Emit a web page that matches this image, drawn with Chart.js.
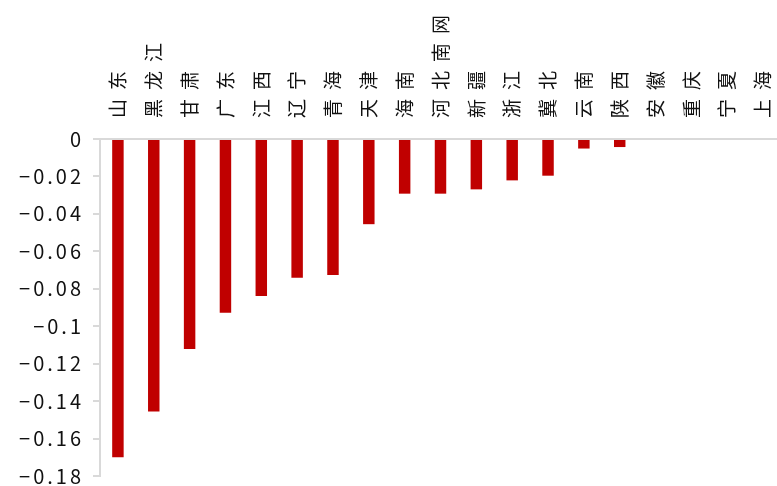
<!DOCTYPE html>
<html>
<head>
<meta charset="utf-8">
<script src="https://cdn.jsdelivr.net/npm/chart.js@4.4.1/dist/chart.umd.min.js"></script>
<style>
    html, body { margin: 0; padding: 0; background: #fff; overflow: hidden; }
    #wrap { width: 781px; height: 486px; position: relative; }
</style>
</head>
<body>
<div id="wrap"><canvas id="myChart"></canvas></div>
<script>
const provinces = ['山东', '黑龙江', '甘肃', '广东', '江西', '辽宁', '青海', '天津', '海南', '河北南网',
    '新疆', '浙江', '冀北', '云南', '陕西', '安徽', '重庆', '宁夏', '上海'];
const values = [-0.170, -0.1456, -0.1121, -0.0928, -0.0838, -0.0741, -0.0727, -0.0455, -0.0292, -0.0292,
    -0.0269, -0.0221, -0.0196, -0.0051, -0.0043, 0, 0, 0, 0];
const yTicks = [0, -0.02, -0.04, -0.06, -0.08, -0.1, -0.12, -0.14, -0.16, -0.18];

const axisGray = '#d9d9d9';

// tick labels drawn by hand so the letter spacing can match
const labelPlugin = {
    id: 'spacedLabels',
    afterDraw(chart) {
        const ctx = chart.ctx;
        const xs = chart.scales.x;
        const ys = chart.scales.y;
        ctx.save();
        ctx.fillStyle = '#111';

        // category names, rotated, reading upwards from the axis
        ctx.font = '19px "Noto Sans CJK SC"';
        ctx.letterSpacing = '9px';
        ctx.textAlign = 'left';
        ctx.textBaseline = 'middle';
        provinces.forEach((p, i) => {
            const x = xs.getPixelForValue(i);
            ctx.save();
            ctx.translate(x, 118);
            ctx.rotate(-Math.PI / 2);
            ctx.fillText(p, 0, 0);
            ctx.restore();
        });

        // value axis
        ctx.font = '20px "Noto Sans CJK SC"';
        ctx.letterSpacing = '3px';
        ctx.textAlign = 'right';
        yTicks.forEach(v => {
            const y = ys.getPixelForValue(v);
            const s = v === 0 ? '0' : String(parseFloat(v.toFixed(2))).replace('-', '−');
            ctx.fillText(s, 84, y);
        });
        ctx.restore();
    }
};

const myChart = document.getElementById('myChart').getContext('2d');
new Chart(myChart, {
    type: 'bar',
    data: {
        labels: provinces,
        datasets: [{
            data: values,
            backgroundColor: '#c00000',
            borderWidth: 0,
            barPercentage: 0.32,
            categoryPercentage: 1
        }]
    },
    options: {
        responsive: true,
        maintainAspectRatio: false,
        animation: false,
        layout: { padding: { top: 0, left: 0, right: 0, bottom: 10 } },
        plugins: {
            legend: { display: false },
            tooltip: { enabled: false }
        },
        scales: {
            x: {
                position: 'top',
                grid: { display: false },
                border: { display: true, color: axisGray, width: 2 },
                ticks: { display: false },
                afterFit: s => { s.height = 139; }
            },
            y: {
                min: -0.18,
                max: 0,
                afterBuildTicks: s => { s.ticks = yTicks.map(v => ({ value: v })); },
                ticks: { display: false },
                grid: { drawOnChartArea: false, drawTicks: true, tickLength: 7, color: axisGray, lineWidth: 2 },
                border: { color: axisGray, width: 2 },
                afterFit: s => { s.width = 100; }
            }
        }
    },
    plugins: [labelPlugin]
});
</script>
</body>
</html>
